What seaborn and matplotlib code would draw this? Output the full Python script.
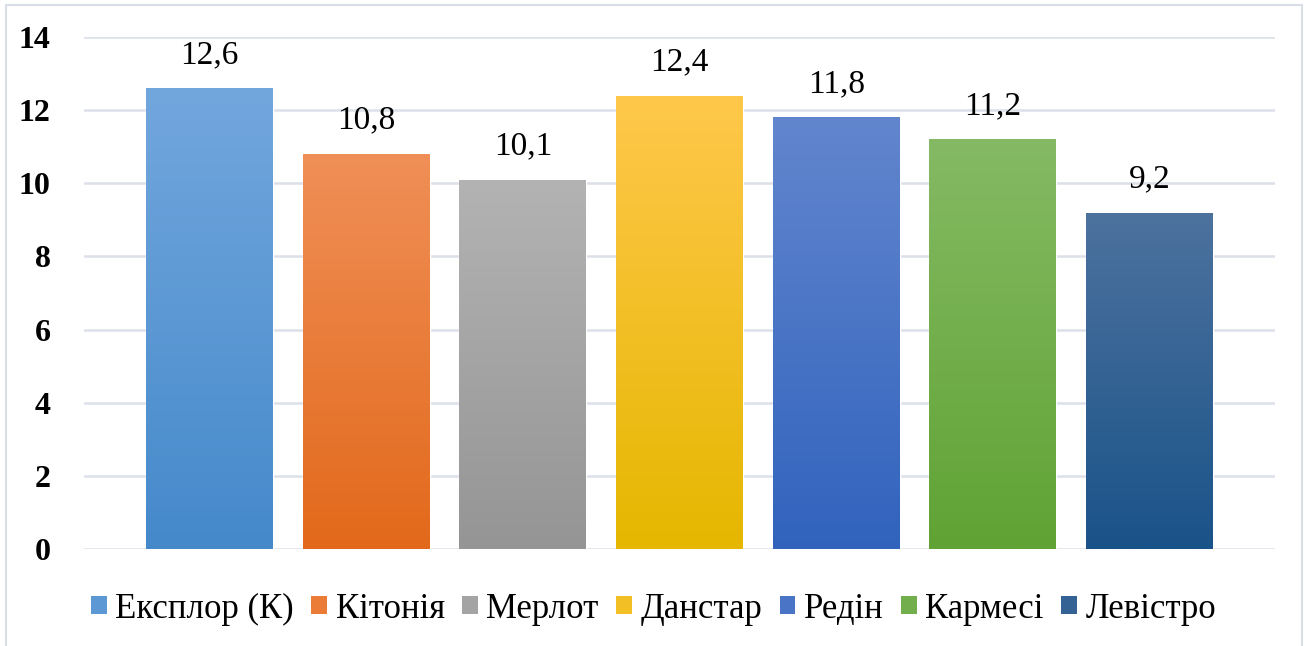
import numpy as np
import pandas as pd
import matplotlib
matplotlib.use("Agg")
import matplotlib.pyplot as plt
import seaborn as sns
from matplotlib.colors import LinearSegmentedColormap
from matplotlib.patches import Patch
from matplotlib.lines import Line2D

categories = ["Експлор (К)", "Кітонія", "Мерлот", "Данстар", "Редін", "Кармесі", "Левістро"]
values = [12.6, 10.8, 10.1, 12.4, 11.8, 11.2, 9.2]
labels = ["12,6", "10,8", "10,1", "12,4", "11,8", "11,2", "9,2"]
top_colors = ["#72A7DD", "#F08F57", "#B3B3B3", "#FFC84B", "#6286CE", "#85BA64", "#4D729E"]
bottom_colors = ["#4589CB", "#E2691B", "#959595", "#E5B700", "#3163BD", "#60A334", "#1A5389"]
mid_colors = ["#5B98D4", "#EA7C38", "#A4A4A4", "#F2C025", "#4A75C6", "#72AE4C", "#346294"]
yticks = [0, 2, 4, 6, 8, 10, 12, 14]

sns.set_theme(style="white")
plt.rcParams["font.family"] = ["Liberation Serif", "DejaVu Serif"]

W, H = 1307, 646
fig = plt.figure(figsize=(W / 100, H / 100), dpi=100)
ax = fig.add_axes([84 / W, 1 - 549 / H, (1275 - 84) / W, (549 - 37) / H])

df = pd.DataFrame({"cat": categories, "val": values})
sns.barplot(data=df, x="cat", y="val", hue="cat", palette=mid_colors,
            width=0.81, legend=False, ax=ax, saturation=1, zorder=3)

ax.set_ylim(0, 14)
ax.set_xlim(-0.8, len(categories) - 0.2)
ax.set_yticks(yticks)
ax.set_yticklabels([str(t) for t in yticks], fontsize=23, fontweight="bold", color="#000000")
ax.tick_params(axis="y", length=0, pad=24)
ax.set_xticks([])
ax.set_xlabel("")
ax.set_ylabel("")
for s in ax.spines.values():
    s.set_visible(False)
ax.yaxis.grid(True, color="#DCE0E8", linewidth=1.8, zorder=0)
ax.set_axisbelow(True)

# gradient fills
for i, p in enumerate(ax.patches[:len(categories)]):
    x0, y0 = p.get_x(), p.get_y()
    w, h = p.get_width(), p.get_height()
    cmap = LinearSegmentedColormap.from_list("g", [bottom_colors[i], top_colors[i]])
    grad = np.linspace(0, 1, 256).reshape(-1, 1)
    im = ax.imshow(grad, cmap=cmap, aspect="auto", origin="lower",
                   extent=(x0, x0 + w, y0, y0 + h), zorder=4)
    im.set_clip_path(p)
    ax.text(x0 + w / 2, y0 + h + 0.5, labels[i], ha="center", va="bottom",
            fontsize=24, color="#000000")

ax.set_xlim(-0.8, len(categories) - 0.2)
ax.set_ylim(0, 14)

handles = [Patch(facecolor=c, edgecolor="none") for c in mid_colors]
fig.legend(handles, categories, loc="center", bbox_to_anchor=(0.5, 1 - 609 / H),
           ncol=7, frameon=False, fontsize=25, handlelength=0.45, handleheight=0.45,
           handletextpad=0.25, columnspacing=0.5, labelcolor="#000000")

# outer border (left, top, right)
bc = "#D9DEE6"
fig.add_artist(Line2D([6 / W, 6 / W], [0, 1 - 5 / H], color=bc, linewidth=1.5, transform=fig.transFigure))
fig.add_artist(Line2D([6 / W, 1302 / W], [1 - 5 / H, 1 - 5 / H], color=bc, linewidth=1.5, transform=fig.transFigure))
fig.add_artist(Line2D([1302 / W, 1302 / W], [0, 1 - 5 / H], color=bc, linewidth=1.5, transform=fig.transFigure))

fig.savefig("out.png", dpi=100)
